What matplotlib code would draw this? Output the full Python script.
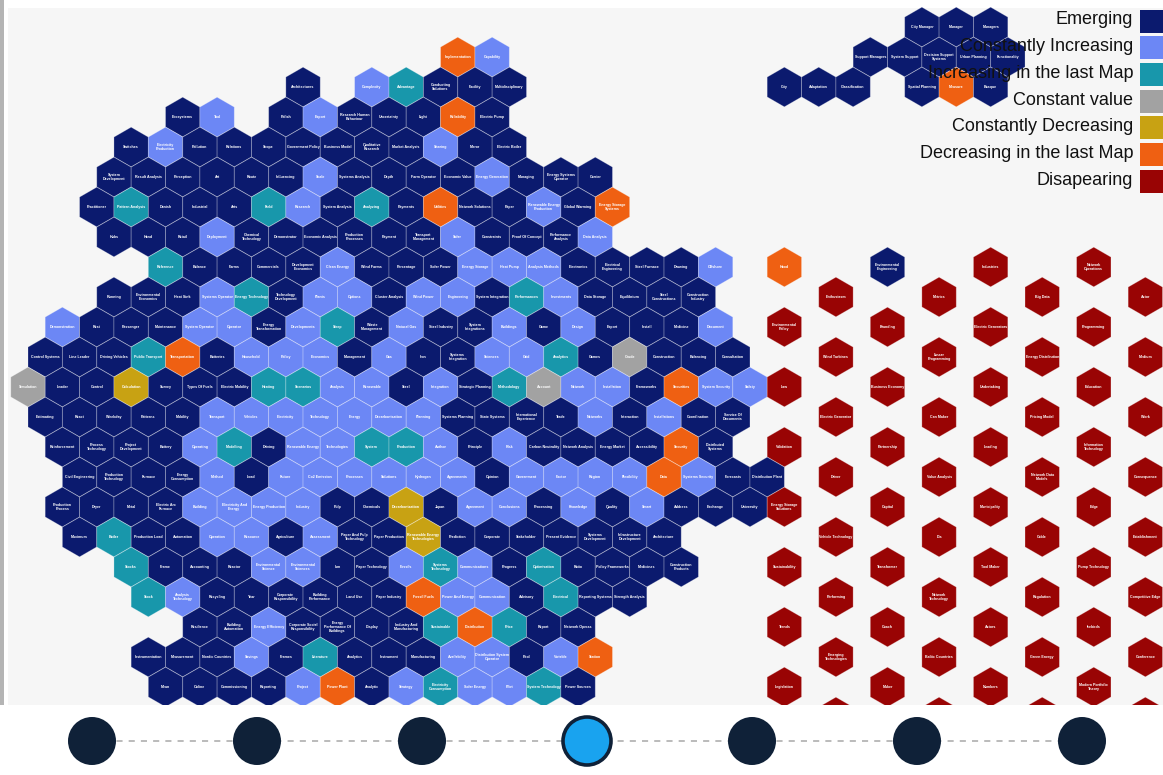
import matplotlib
matplotlib.use("Agg")
import matplotlib.pyplot as plt
from matplotlib.patches import RegularPolygon, Rectangle, Circle

# ---------------- data ----------------
STATUS_KEYS = ["E", "CI", "IL", "CV", "CD", "DL", "D"]
STATUS_NAMES = ["Emerging", "Constantly Increasing", "Increasing in the last Map",
                "Constant value", "Constantly Decreasing", "Decreasing in the last Map",
                "Disapearing"]
STATUS_COLORS = ["#0b1a6e", "#6c87f5", "#1897ab", "#a2a2a2", "#c8a213", "#ef6012", "#990404"]

# each grid row: (half-column index, term, status)
row_m1 = [(52, "City Manager", "E"), (54, "Manager", "E"), (56, "Managers", "E")]
row_0 = [(25, "Implementation", "DL"), (27, "Capability", "CI"), (49, "Support Managers", "E"),
         (51, "System Support", "E"), (53, "Decision Support\nSystems", "E"),
         (55, "Urban Planning", "E"), (57, "Functionality", "E")]
row_1 = [(16, "Architectures", "E"), (20, "Complexity", "CI"), (22, "Advantage", "IL"),
         (24, "Conducting\nSolutions", "E"), (26, "Facility", "E"), (28, "Multidisciplinary", "E"),
         (44, "City", "E"), (46, "Adaptation", "E"), (48, "Classification", "E"),
         (52, "Spatial Planning", "E"), (54, "Measure", "DL"), (56, "Basque", "E")]
row_2 = [(9, "Ecosystems", "E"), (11, "Tool", "CI"), (15, "Polish", "E"), (17, "Export", "CI"),
         (19, "Research Human\nBehaviour", "E"), (21, "Uncertainty", "E"), (23, "Light", "E"),
         (25, "Reliability", "DL"), (27, "Electric Pump", "E")]
row_3 = [(6, "Switches", "E"), (8, "Electricity\nProduction", "CI"), (10, "Pollution", "E"),
         (12, "Relations", "E"), (14, "Scope", "E"), (16, "Government Policy", "E"),
         (18, "Business Model", "E"), (20, "Qualitative\nResearch", "E"),
         (22, "Market Analysis", "E"), (24, "Sharing", "CI"), (26, "Mirror", "E"),
         (28, "Electric Boiler", "E")]
row_4 = [(5, "System\nDevelopment", "E"), (7, "Result Analysis", "E"), (9, "Perception", "E"),
         (11, "Art", "E"), (13, "Route", "E"), (15, "Influencing", "E"), (17, "Scale", "CI"),
         (19, "Systems Analysis", "E"), (21, "Depth", "E"), (23, "Farm Operator", "E"),
         (25, "Economic Value", "E"), (27, "Energy Generation", "CI"), (29, "Managing", "E"),
         (31, "Energy Systems\nOperator", "E"), (33, "Carrier", "E")]
row_5 = [(4, "Practitioner", "E"), (6, "Pattern Analysis", "IL"), (8, "Danish", "E"),
         (10, "Industrial", "E"), (12, "Arts", "E"), (14, "Field", "IL"), (16, "Research", "CI"),
         (18, "System Analysis", "E"), (20, "Analyzing", "IL"), (22, "Payments", "E"),
         (24, "Utilities", "DL"), (26, "Network Solutions", "E"), (28, "Paper", "E"),
         (30, "Renewable Energy\nProduction", "CI"), (32, "Global Warming", "E"),
         (34, "Energy Storage\nSystems", "DL")]
row_6 = [(5, "Hubs", "E"), (7, "Hand", "E"), (9, "Retail", "E"), (11, "Deployment", "CI"),
         (13, "Chemical\nTechnology", "E"), (15, "Demonstrator", "E"),
         (17, "Economic Analysis", "E"), (19, "Production\nProcesses", "E"), (21, "Payment", "E"),
         (23, "Transport\nManagement", "E"), (25, "Solar", "CI"), (27, "Constraints", "E"),
         (29, "Proof Of Concept", "E"), (31, "Performance\nAnalysis", "E"),
         (33, "Data Analysis", "CI")]
row_7 = [(8, "Reference", "IL"), (10, "Balance", "E"), (12, "Farms", "E"), (14, "Commercials", "E"),
         (16, "Development\nEconomics", "E"), (18, "Clean Energy", "CI"), (20, "Wind Farms", "E"),
         (22, "Percentage", "E"), (24, "Solar Power", "E"), (26, "Energy Storage", "CI"),
         (28, "Heat Pump", "CI"), (30, "Analysis Methods", "CI"), (32, "Electronics", "E"),
         (34, "Electrical\nEngineering", "E"), (36, "Steel Furnace", "E"), (38, "Drawing", "E"),
         (40, "Offshore", "CI"), (44, "Hood", "DL"), (50, "Environmental\nEngineering", "E"),
         (56, "Industries", "D"), (62, "Network\nOperations", "D")]
row_8 = [(5, "Running", "E"), (7, "Environmental\nEconomics", "E"), (9, "Heat Sink", "E"),
         (11, "Systems Operator", "CI"), (13, "Energy Technology", "IL"),
         (15, "Technology\nDevelopment", "E"), (17, "Plants", "CI"), (19, "Options", "CI"),
         (21, "Cluster Analysis", "E"), (23, "Wind Power", "CI"), (25, "Engineering", "CI"),
         (27, "System Integration", "E"), (29, "Performances", "IL"), (31, "Investments", "CI"),
         (33, "Data Storage", "E"), (35, "Equilibrium", "E"), (37, "Steel\nConstructions", "E"),
         (39, "Construction\nIndustry", "E"), (47, "Enthusiasm", "D"), (53, "Metrics", "D"),
         (59, "Big Data", "D"), (65, "Actor", "D")]
row_9 = [(2, "Demonstration", "CI"), (4, "Rest", "E"), (6, "Passenger", "E"),
         (8, "Maintenance", "E"), (10, "System Operator", "CI"), (12, "Operator", "CI"),
         (14, "Energy\nTransformation", "E"), (16, "Developments", "CI"), (18, "Sleep", "IL"),
         (20, "Waste\nManagement", "E"), (22, "Natural Gas", "CI"), (24, "Steel Industry", "E"),
         (26, "System\nIntegrations", "E"), (28, "Buildings", "CI"), (30, "Game", "E"),
         (32, "Design", "CI"), (34, "Export", "E"), (36, "Install", "E"), (38, "Medicine", "E"),
         (40, "Document", "CI"), (44, "Environmental\nPolicy", "D"), (50, "Branding", "D"),
         (56, "Electric Generators", "D"), (62, "Programming", "D")]
row_10 = [(1, "Control Systems", "E"), (3, "Line Leader", "E"), (5, "Driving Vehicles", "E"),
          (7, "Public Transport", "IL"), (9, "Transportation", "DL"), (11, "Batteries", "E"),
          (13, "Household", "CI"), (15, "Policy", "CI"), (17, "Economics", "CI"),
          (19, "Management", "E"), (21, "Gas", "CI"), (23, "Iron", "E"),
          (25, "Systems\nIntegration", "E"), (27, "Sciences", "CI"), (29, "Grid", "CI"),
          (31, "Analytics", "IL"), (33, "Games", "E"), (35, "Crude", "CV"),
          (37, "Construction", "E"), (39, "Balancing", "E"), (41, "Consultation", "E"),
          (47, "Wind Turbines", "D"), (53, "Linear\nProgramming", "D"),
          (59, "Energy Distribution", "D"), (65, "Medium", "D")]
row_11 = [(0, "Simulation", "CV"), (2, "Leader", "E"), (4, "Control", "E"), (6, "Calculation", "CD"),
          (8, "Survey", "E"), (10, "Types Of Fuels", "E"), (12, "Electric Mobility", "E"),
          (14, "Heating", "IL"), (16, "Scenarios", "IL"), (18, "Analysis", "CI"),
          (20, "Renewable", "CI"), (22, "Steel", "E"), (24, "Integration", "CI"),
          (26, "Strategic Planning", "E"), (28, "Methodology", "IL"), (30, "Account", "CV"),
          (32, "Network", "CI"), (34, "Installation", "CI"), (36, "Frameworks", "E"),
          (38, "Securities", "DL"), (40, "System Security", "CI"), (42, "Safety", "CI"),
          (44, "Law", "D"), (50, "Business Economy", "D"), (56, "Undertaking", "D"),
          (62, "Education", "D")]
row_12 = [(1, "Estimating", "E"), (3, "React", "E"), (5, "Weekday", "E"), (7, "Patterns", "E"),
          (9, "Mobility", "E"), (11, "Transport", "CI"), (13, "Vehicles", "CI"),
          (15, "Electricity", "CI"), (17, "Technology", "CI"), (19, "Energy", "CI"),
          (21, "Decarbonisation", "CI"), (23, "Planning", "CI"), (25, "Systems Planning", "E"),
          (27, "State Systems", "E"), (29, "International\nExperience", "E"), (31, "Trade", "E"),
          (33, "Networks", "CI"), (35, "Interaction", "E"), (37, "Installations", "CI"),
          (39, "Coordination", "E"), (41, "Service Of\nDocuments", "E"),
          (47, "Electric Generator", "D"), (53, "Can Maker", "D"), (59, "Pricing Model", "D"),
          (65, "Work", "D")]
row_13 = [(2, "Reinforcement", "E"), (4, "Process\nTechnology", "E"),
          (6, "Project\nDevelopment", "E"), (8, "Battery", "E"), (10, "Operating", "CI"),
          (12, "Modelling", "IL"), (14, "Driving", "E"), (16, "Renewable Energy", "CI"),
          (18, "Technologies", "CI"), (20, "System", "IL"), (22, "Production", "IL"),
          (24, "Author", "CI"), (26, "Principle", "E"), (28, "Risk", "CI"),
          (30, "Carbon Neutrality", "E"), (32, "Network Analysis", "E"), (34, "Energy Market", "E"),
          (36, "Accessibility", "E"), (38, "Security", "DL"), (40, "Distributed\nSystems", "E"),
          (44, "Validation", "D"), (50, "Partnership", "D"), (56, "Leading", "D"),
          (62, "Information\nTechnology", "D")]
row_14 = [(3, "Civil Engineering", "E"), (5, "Production\nTechnology", "E"), (7, "Furnace", "E"),
          (9, "Energy\nConsumption", "E"), (11, "Method", "CI"), (13, "Load", "E"),
          (15, "Future", "CI"), (17, "Co2 Emission", "CI"), (19, "Processes", "CI"),
          (21, "Solutions", "CI"), (23, "Hydrogen", "CI"), (25, "Agreements", "CI"),
          (27, "Opinion", "E"), (29, "Government", "CI"), (31, "Factor", "CI"), (33, "Region", "CI"),
          (35, "Flexibility", "CI"), (37, "Data", "DL"), (39, "Systems Security", "CI"),
          (41, "Forecasts", "E"), (43, "Distribution Plant", "E"), (47, "Driver", "D"),
          (53, "Value Analysis", "D"), (59, "Network Data\nModels", "D"), (65, "Consequence", "D")]
row_15 = [(2, "Production\nProcess", "E"), (4, "Dryer", "E"), (6, "Metal", "E"),
          (8, "Electric Arc\nFurnace", "E"), (10, "Building", "CI"),
          (12, "Electricity And\nEnergy", "CI"), (14, "Energy Production", "CI"),
          (16, "Industry", "CI"), (18, "Pulp", "E"), (20, "Chemicals", "E"),
          (22, "Decarbonization", "CD"), (24, "Japan", "E"), (26, "Agreement", "CI"),
          (28, "Conclusions", "CI"), (30, "Processing", "E"), (32, "Knowledge", "CI"),
          (34, "Quality", "E"), (36, "Smart", "CI"), (38, "Address", "E"), (40, "Exchange", "E"),
          (42, "University", "E"), (44, "Energy Storage\nSolutions", "D"), (50, "Capital", "D"),
          (56, "Municipality", "D"), (62, "Edge", "D")]
row_16 = [(3, "Maximum", "E"), (5, "Boiler", "IL"), (7, "Production Load", "E"),
          (9, "Automation", "E"), (11, "Operation", "CI"), (13, "Resource", "CI"),
          (15, "Agriculture", "E"), (17, "Assessment", "CI"),
          (19, "Paper And Pulp\nTechnology", "E"), (21, "Paper Production", "E"),
          (23, "Renewable Energy\nTechnologies", "CD"), (25, "Prediction", "E"),
          (27, "Corporate", "E"), (29, "Stakeholder", "E"), (31, "Present Evidence", "E"),
          (33, "Systems\nDevelopment", "E"), (35, "Infrastructure\nDevelopment", "E"),
          (37, "Architecture", "E"), (47, "Vehicle Technology", "D"), (53, "Dis", "D"),
          (59, "Cable", "D"), (65, "Establishment", "D")]
row_17 = [(6, "Stocks", "IL"), (8, "Frame", "E"), (10, "Accounting", "E"), (12, "Reactor", "E"),
          (14, "Environmental\nScience", "CI"), (16, "Environmental\nSciences", "CI"),
          (18, "Iam", "E"), (20, "Paper Technology", "E"), (22, "Fossils", "CI"),
          (24, "Systems\nTechnology", "IL"), (26, "Communications", "CI"), (28, "Progress", "E"),
          (30, "Optimisation", "IL"), (32, "Ratio", "E"), (34, "Policy Frameworks", "E"),
          (36, "Medicines", "E"), (38, "Construction\nProducts", "E"),
          (44, "Sustainability", "D"), (50, "Transformer", "D"), (56, "Tool Maker", "D"),
          (62, "Pump Technology", "D")]
row_18 = [(7, "Stock", "IL"), (9, "Analysis\nTechnology", "CI"), (11, "Recycling", "E"),
          (13, "Year", "E"), (15, "Corporate\nResponsibility", "E"),
          (17, "Building\nPerformance", "E"), (19, "Land Use", "E"), (21, "Paper Industry", "E"),
          (23, "Fossil Fuels", "DL"), (25, "Power And Energy", "CI"), (27, "Communication", "CI"),
          (29, "Advisory", "E"), (31, "Electrical", "IL"), (33, "Reporting Systems", "E"),
          (35, "Strength Analysis", "E"), (47, "Performing", "D"),
          (53, "Network\nTechnology", "D"), (59, "Regulation", "D"), (65, "Competitive Edge", "D")]
row_19 = [(10, "Resilience", "E"), (12, "Building\nAutomation", "E"),
          (14, "Energy Efficiency", "CI"), (16, "Corporate Social\nResponsibility", "E"),
          (18, "Energy\nPerformance Of\nBuildings", "E"), (20, "Display", "E"),
          (22, "Industry And\nManufacturing", "E"), (24, "Sustainable", "IL"),
          (26, "Distribution", "DL"), (28, "Price", "IL"), (30, "Report", "E"),
          (32, "Network Operas", "E"), (44, "Trends", "D"), (50, "Coach", "D"),
          (56, "Actors", "D"), (62, "Icebirds", "D")]
row_20 = [(7, "Instrumentation", "E"), (9, "Measurement", "E"), (11, "Nordic Countries", "E"),
          (13, "Savings", "CI"), (15, "Frames", "E"), (17, "Literature", "IL"),
          (19, "Analytics", "E"), (21, "Instrument", "E"), (23, "Manufacturing", "E"),
          (25, "Availability", "CI"), (27, "Distribution System\nOperator", "CI"),
          (29, "Pool", "E"), (31, "Variable", "CI"), (33, "Station", "DL"),
          (47, "Emerging\nTechnologies", "D"), (53, "Baltic Countries", "D"),
          (59, "Green Energy", "D"), (65, "Conference", "D")]
row_21 = [(8, "Mean", "E"), (10, "Online", "E"), (12, "Commissioning", "E"), (14, "Reporting", "E"),
          (16, "Project", "CI"), (18, "Power Plant", "DL"), (20, "Analytic", "E"),
          (22, "Strategy", "CI"), (24, "Electricity\nConsumption", "IL"), (26, "Solar Energy", "CI"),
          (28, "Pilot", "CI"), (30, "System Technology", "IL"), (32, "Power Sources", "E"),
          (44, "Legislation", "D"), (50, "Maker", "D"), (56, "Numbers", "D"),
          (62, "Modern Portfolio\nTheory", "D")]
row_22 = [(47, "", "D"), (53, "", "D"), (59, "", "D"), (65, "", "D")]

GRID_ROWS = [row_m1, row_0, row_1, row_2, row_3, row_4, row_5, row_6, row_7, row_8, row_9,
             row_10, row_11, row_12, row_13, row_14, row_15, row_16, row_17, row_18, row_19,
             row_20, row_21, row_22]
FIRST_ROW = -1

TIMELINE_STEPS = 7
TIMELINE_ACTIVE = 3

# ---------------- layout ----------------
W, H = 1163, 775
X0, HALF_DX = 28.0, 17.19
Y0, DY = 57.0, 30.0
R = 2 * HALF_DX / 3 ** 0.5
MAP_TOP, MAP_BOTTOM = 8, 705

color_of = dict(zip(STATUS_KEYS, STATUS_COLORS))

fig = plt.figure(figsize=(W / 100, H / 100), dpi=100)
fig.patch.set_facecolor("white")
ax = fig.add_axes([0, 0, 1, 1])
ax.set_xlim(0, W)
ax.set_ylim(H, 0)
ax.set_aspect("equal")
ax.axis("off")

# map background
ax.add_patch(Rectangle((8, MAP_TOP), W - 8, MAP_BOTTOM - MAP_TOP, facecolor="#f6f6f6",
                       edgecolor="none", zorder=0))
ax.add_patch(Rectangle((0, 0), 3.5, MAP_BOTTOM, facecolor="#b4b4b4", edgecolor="none", zorder=0))

for i, row in enumerate(GRID_ROWS):
    r = FIRST_ROW + i
    y = Y0 + DY * r
    for h, label, st in row:
        x = X0 + HALF_DX * h
        ax.add_patch(RegularPolygon((x, y), numVertices=6, radius=R, orientation=0,
                                    facecolor=color_of[st],
                                    edgecolor=(1, 1, 1, 0.28), linewidth=0.6, zorder=2))
        if label:
            ax.text(x, y, label, ha="center", va="center", color="white", fontsize=2.6,
                    fontweight="bold", family=["Liberation Sans", "DejaVu Sans"],
                    linespacing=1.0, zorder=3)

# legend
LEG_Y0, LEG_DY = 20.0, 26.7
for i, (name, col) in enumerate(zip(STATUS_NAMES, STATUS_COLORS)):
    yc = LEG_Y0 + LEG_DY * i
    ax.text(1133, yc, name, ha="right", va="center", fontsize=13, color="#111111",
            family=["Liberation Sans", "DejaVu Sans"], zorder=6)
    ax.add_patch(Rectangle((1140, yc - 10.5), 40, 23, facecolor=col, edgecolor="none", zorder=6))

# bottom strip (covers map overflow) and timeline
ax.add_patch(Rectangle((0, MAP_BOTTOM), W, H - MAP_BOTTOM, facecolor="white", edgecolor="none",
                       zorder=8))
TL_X0, TL_DX, TL_Y, TL_R = 92, 165.0, 741, 24
ax.plot([TL_X0, TL_X0 + TL_DX * (TIMELINE_STEPS - 1)], [TL_Y, TL_Y], color="#a8a8a8", lw=1.1,
        dashes=(4, 4), zorder=9)
for k in range(TIMELINE_STEPS):
    cx = TL_X0 + TL_DX * k
    if k == TIMELINE_ACTIVE:
        ax.add_patch(Circle((cx, TL_Y), TL_R, facecolor="#19a3ef", edgecolor="#0f2138",
                            linewidth=2.6, zorder=10))
    else:
        ax.add_patch(Circle((cx, TL_Y), TL_R, facecolor="#0f2138", edgecolor="none", zorder=10))

fig.savefig("out.png", dpi=100, facecolor="white")
